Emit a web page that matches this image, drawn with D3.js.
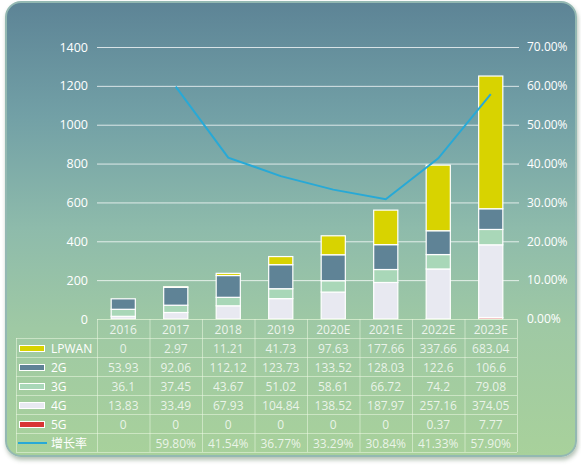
<!DOCTYPE html>
<html>
<head>
<meta charset="utf-8">
<script src="https://cdn.jsdelivr.net/npm/d3@7"></script>
<style>
    body { margin: 0; background: #fff; font-family: "Open Sans", "Noto Sans CJK SC", sans-serif; }
    #card {
        position: absolute; left: 5px; top: 1px; width: 572px; height: 456px;
        border-radius: 16px; box-sizing: border-box;
        border: 2px solid #93b8b2;
        background: linear-gradient(to bottom, #5d8496 0%, #72a0a6 25%, #8ebbab 50%, #9fc9a4 72%, #a8d19b 100%);
        box-shadow: 1px 3px 4px rgba(90, 120, 90, 0.45);
    }
    svg { position: absolute; left: 0; top: 0; }
</style>
</head>
<body>
<div id="card"></div>
<svg id="chart" width="581" height="466"></svg>
<script>
"use strict";

const years = ["2016", "2017", "2018", "2019", "2020E", "2021E", "2022E", "2023E"];
const lpwan = [0, 2.97, 11.21, 41.73, 97.63, 177.66, 337.66, 683.04];
const g2 = [53.93, 92.06, 112.12, 123.73, 133.52, 128.03, 122.6, 106.6];
const g3 = [36.1, 37.45, 43.67, 51.02, 58.61, 66.72, 74.2, 79.08];
const g4 = [13.83, 33.49, 67.93, 104.84, 138.52, 187.97, 257.16, 374.05];
const g5 = [0, 0, 0, 0, 0, 0, 0.37, 7.77];
const growth = [null, 59.80, 41.54, 36.77, 33.29, 30.84, 41.33, 57.90];
const leftTicks = [0, 200, 400, 600, 800, 1000, 1200, 1400];
const rightTicks = [0, 10, 20, 30, 40, 50, 60, 70];

(function () {
    // stack order, bottom first
    const series = [
        { key: "5G", values: g5, color: "#d83434" },
        { key: "4G", values: g4, color: "#e8e9f1" },
        { key: "3G", values: g3, color: "#a9d7b8" },
        { key: "2G", values: g2, color: "#5f8396" },
        { key: "LPWAN", values: lpwan, color: "#d8d300" }
    ];

    const plotLeft = 97, plotRight = 517, plotTop = 47, plotBottom = 319;
    const rowH = 19;
    const font = "'Open Sans', 'Noto Sans CJK SC', sans-serif";
    const svg = d3.select("#chart");

    const x = d3.scaleBand().domain(years).range([plotLeft, plotRight]).paddingInner(0.54).paddingOuter(0.27);
    const y = d3.scaleLinear().domain([0, 1400]).range([plotBottom, plotTop]);
    const y2 = d3.scaleLinear().domain([0, 70]).range([plotBottom, plotTop]);

    // gridlines
    svg.append("g")
        .selectAll("line")
        .data(leftTicks.slice(1))
        .join("line")
        .attr("x1", plotLeft).attr("x2", plotRight + 2)
        .attr("y1", d => y(d) + 0.5).attr("y2", d => y(d) + 0.5)
        .attr("stroke", "rgba(255,255,255,0.75)")
        .attr("stroke-width", 1);

    // left axis
    svg.append("g")
        .attr("transform", `translate(${plotLeft - 3},0)`)
        .call(d3.axisLeft(y).tickValues(leftTicks).tickSize(0).tickPadding(6).tickFormat(d => String(d)))
        .call(g => g.select(".domain").remove())
        .selectAll("text")
        .attr("fill", "#fff")
        .style("font-size", "12.5px")
        .style("font-family", font);

    // right axis
    svg.append("g")
        .attr("transform", `translate(${plotRight + 4},0)`)
        .call(d3.axisRight(y2).tickValues(rightTicks).tickSize(0).tickPadding(6).tickFormat(d => d.toFixed(2) + "%"))
        .call(g => g.select(".domain").remove())
        .selectAll("text")
        .attr("fill", "#fff")
        .style("font-size", "12px")
        .style("font-family", font);

    // stacked bars
    const table = years.map((yr, i) => {
        const row = { year: yr };
        series.forEach(s => { row[s.key] = s.values[i]; });
        return row;
    });
    const stacked = d3.stack().keys(series.map(s => s.key))(table);

    svg.append("g")
        .selectAll("g")
        .data(stacked)
        .join("g")
        .attr("fill", (d, i) => series[i].color)
        .selectAll("rect")
        .data(d => d.filter(p => p[1] - p[0] > 0))
        .join("rect")
        .attr("x", d => x(d.data.year))
        .attr("y", d => y(d[1]))
        .attr("width", x.bandwidth())
        .attr("height", d => y(d[0]) - y(d[1]))
        .attr("stroke", "#fff")
        .attr("stroke-width", 1.2);

    // growth line
    const line = d3.line()
        .defined(d => d.v !== null)
        .x(d => x(d.year) + x.bandwidth() / 2)
        .y(d => y2(d.v));

    svg.append("path")
        .datum(years.map((yr, i) => ({ year: yr, v: growth[i] })))
        .attr("d", line)
        .attr("fill", "none")
        .attr("stroke", "#28a9d6")
        .attr("stroke-width", 2);

    // data table
    const tbl = svg.append("g");
    const gridColor = "rgba(235,248,225,0.55)";
    const labelLeft = 16;
    const rows = [
        { label: "LPWAN", type: "bar", color: "#d8d300", values: lpwan.map(String) },
        { label: "2G", type: "bar", color: "#5f8396", values: g2.map(String) },
        { label: "3G", type: "bar", color: "#a9d7b8", values: g3.map(String) },
        { label: "4G", type: "bar", color: "#e8e9f1", values: g4.map(String) },
        { label: "5G", type: "bar", color: "#d83434", values: g5.map(String) },
        { label: "增长率", type: "line", color: "#28a9d6", values: growth.map(v => v === null ? "" : v.toFixed(2) + "%") }
    ];

    const colW = (plotRight - plotLeft) / years.length;
    const tblBottom = plotBottom + rowH * (rows.length + 1);

    tbl.append("line")
        .attr("x1", plotLeft).attr("x2", plotRight).attr("y1", plotBottom + 0.5).attr("y2", plotBottom + 0.5)
        .attr("stroke", "rgba(220,240,210,0.8)");
    tbl.selectAll("line.h")
        .data(d3.range(1, rows.length + 2))
        .join("line")
        .attr("class", "h")
        .attr("x1", labelLeft).attr("x2", plotRight)
        .attr("y1", d => plotBottom + d * rowH + 0.5).attr("y2", d => plotBottom + d * rowH + 0.5)
        .attr("stroke", gridColor);

    tbl.selectAll("line.v")
        .data(d3.range(0, years.length + 1))
        .join("line")
        .attr("class", "v")
        .attr("x1", d => plotLeft + d * colW + 0.5).attr("x2", d => plotLeft + d * colW + 0.5)
        .attr("y1", plotBottom).attr("y2", tblBottom)
        .attr("stroke", gridColor);
    tbl.append("line")
        .attr("x1", labelLeft + 0.5).attr("x2", labelLeft + 0.5)
        .attr("y1", plotBottom + rowH).attr("y2", tblBottom)
        .attr("stroke", gridColor);

    tbl.selectAll("text.year")
        .data(years)
        .join("text")
        .attr("class", "year")
        .attr("x", (d, i) => plotLeft + (i + 0.5) * colW)
        .attr("y", plotBottom + rowH / 2 + 1)
        .attr("dy", "0.35em")
        .attr("text-anchor", "middle")
        .attr("fill", "rgba(255,255,255,0.82)")
        .style("font-size", "12px")
        .style("font-family", font)
        .text(d => d);

    const rowG = tbl.selectAll("g.row")
        .data(rows)
        .join("g")
        .attr("class", "row")
        .attr("transform", (d, i) => `translate(0,${plotBottom + (i + 1) * rowH})`);

    rowG.filter(d => d.type === "bar")
        .append("rect")
        .attr("x", 19.5).attr("y", 7.5)
        .attr("width", 25).attr("height", 6)
        .attr("fill", d => d.color)
        .attr("stroke", "#fff")
        .attr("stroke-width", 1);

    rowG.filter(d => d.type === "line")
        .append("line")
        .attr("x1", 18).attr("x2", 47)
        .attr("y1", rowH / 2 + 0.5).attr("y2", rowH / 2 + 0.5)
        .attr("stroke", d => d.color)
        .attr("stroke-width", 2);

    rowG.append("text")
        .attr("x", 51)
        .attr("y", rowH / 2 + 1)
        .attr("dy", "0.35em")
        .attr("fill", "#fff")
        .style("font-size", "12px")
        .style("font-family", font)
        .text(d => d.label);

    rowG.selectAll("text.val")
        .data(d => d.values)
        .join("text")
        .attr("class", "val")
        .attr("x", (d, i) => plotLeft + (i + 0.5) * colW)
        .attr("y", rowH / 2 + 1)
        .attr("dy", "0.35em")
        .attr("text-anchor", "middle")
        .attr("fill", "rgba(255,255,255,0.78)")
        .style("font-size", "12px")
        .style("font-family", font)
        .text(d => d);
})();
</script>
</body>
</html>
